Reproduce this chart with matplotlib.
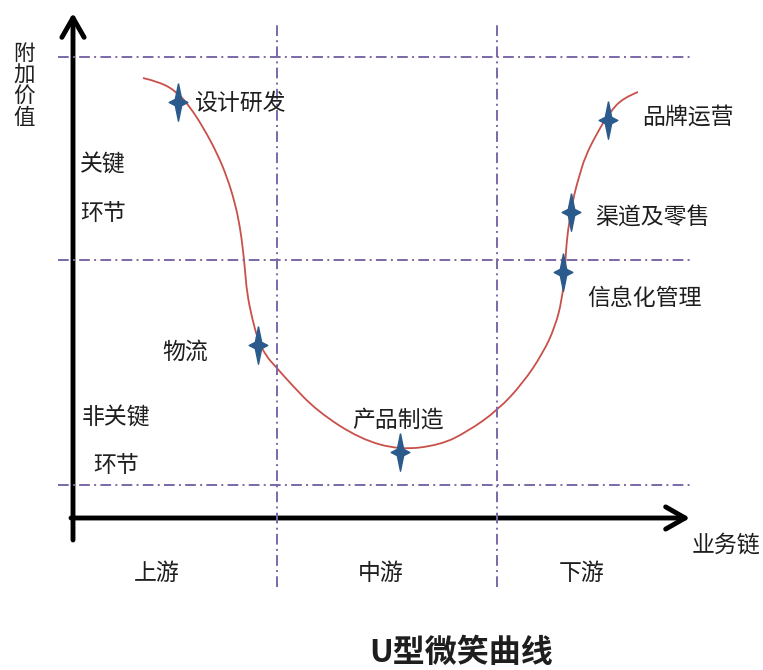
import numpy as np
import matplotlib.pyplot as plt
from matplotlib.path import Path
from matplotlib.patches import PathPatch, FancyArrowPatch

plt.rcParams['font.family'] = ['Noto Sans CJK SC', 'DejaVu Sans']

# smile curve (x = along business chain, y = added value)
curve_x = [70, 87, 104, 117, 130, 144, 154, 162, 167, 170, 172, 174, 179, 185,
           193, 203, 217, 244, 287, 327, 367, 394, 425, 450, 470, 482, 489, 492,
           493, 495, 498, 501, 506, 512, 524, 537, 550, 565]
curve_y = [440, 436, 426, 411, 391, 365, 341, 315, 291, 268, 248, 225, 200, 178,
           162, 151, 135, 107, 79, 68, 73, 86, 108, 135, 165, 191, 218, 248,
           268, 288, 306, 323, 341, 361, 385, 406, 420, 426]

# activities on the curve
activities = ['设计研发', '物流', '产品制造', '信息化管理', '渠道及零售', '品牌运营']
act_x = [105, 185, 327, 490, 498, 535]
act_y = [416, 173, 66, 246, 306, 398]
label_x = [121, 89, 325, 514, 522, 569]
label_y = [415, 166, 98, 220, 301, 401]
label_ha = ['left', 'left', 'center', 'left', 'left', 'left']

# stage boundaries and value levels
stage_bounds = [204, 424]
level_lines = [461, 258, 33]
stages = ['上游', '中游', '下游']
stage_x = [84, 308, 509]

fig = plt.figure(figsize=(7.63, 6.70), dpi=100)
ax = fig.add_axes([0, 0, 1, 1])
ax.set_xlim(-73, 690)
ax.set_ylim(-152, 518)
ax.axis('off')

purple = '#7b68a8'
dash = (0, (5.5, 2.2, 1, 2.2))
for xb in stage_bounds:
    ax.plot([xb, xb], [-69, 496], color=purple, lw=1.4, ls=dash)
for yl in level_lines:
    ax.plot([-15, 617], [yl, yl], color=purple, lw=1.4, ls=dash)

# axes with arrows
ax.add_patch(FancyArrowPatch((0, -22), (0, 505), arrowstyle='->,head_length=0.7,head_width=0.4',
                             mutation_scale=20, lw=3.5, color='black', shrinkA=0, shrinkB=0))
ax.add_patch(FancyArrowPatch((-2, 0), (617, 0), arrowstyle='->,head_length=0.7,head_width=0.4',
                             mutation_scale=20, lw=3.5, color='black', shrinkA=0, shrinkB=0))

# smooth curve: quadratic segments through midpoints
pts = np.column_stack([curve_x, curve_y]).astype(float)
verts = [pts[0]]
codes = [Path.MOVETO]
for i in range(1, len(pts) - 1):
    mid = (pts[i] + pts[i + 1]) / 2 if i < len(pts) - 2 else pts[i + 1]
    verts += [pts[i], mid]
    codes += [Path.CURVE3, Path.CURVE3]
ax.add_patch(PathPatch(Path(verts, codes), fill=False, edgecolor='#c9504a', lw=1.3))

# four-pointed star marker
star = Path([(0, 1), (0.17, 0.17), (0.5, 0), (0.17, -0.17), (0, -1), (-0.17, -0.17),
             (-0.5, 0), (-0.17, 0.17), (0, 1)])
ax.plot(act_x, act_y, ls='none', marker=star, markersize=27, color='#2b5b8c', zorder=5)

fs = 16.5
txt = '#1e1e1e'
for name, lx, ly, ha in zip(activities, label_x, label_y, label_ha):
    ax.text(lx, ly, name, fontsize=fs, ha=ha, va='center', color=txt)

ax.text(7, 353, '关键', fontsize=fs, va='center', color=txt)
ax.text(7, 305, '环节', fontsize=fs, va='center', color=txt)
ax.text(9, 100, '非关键', fontsize=fs, va='center', color=txt)
ax.text(20, 53, '环节', fontsize=fs, va='center', color=txt)

for s, sx in zip(stages, stage_x):
    ax.text(sx, -55, s, fontsize=fs, ha='center', va='center', color=txt)

ax.text(653, -27, '业务链', fontsize=fs, ha='center', va='center', color=txt)
ax.text(-49, 432, '附\n加\n价\n值', fontsize=15.5, ha='center', va='center',
        linespacing=0.98, color=txt)
ax.text(388, -135, 'U型微笑曲线', fontsize=23, ha='center', va='center',
        fontweight='bold', color=txt)

fig.savefig('out.png', dpi=100)
